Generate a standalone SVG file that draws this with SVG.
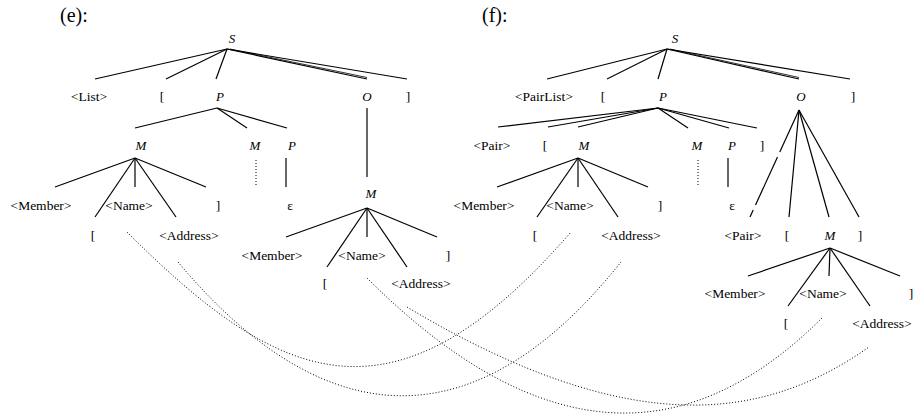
<svg xmlns="http://www.w3.org/2000/svg" width="913" height="416" viewBox="0 0 913 416">
<style>
text{font-family:"Liberation Serif","Times New Roman",serif;font-size:13.5px;fill:#000;text-anchor:middle}
.v{font-style:italic;font-size:13px}
.h{font-size:20px;text-anchor:start}
.e line{stroke:#000;stroke-width:1.2}
.e line.t{stroke-width:0.8}
.dot{stroke:#000;stroke-width:1;stroke-dasharray:1 2;fill:none}
</style>
<rect width="913" height="416" fill="#fff"/>
<g id="connectors">
 <g class="e">
  <line x1="227" y1="49" x2="95" y2="79"/><line x1="227" y1="49" x2="166" y2="79"/><line x1="227" y1="49" x2="216" y2="79"/>
  <line x1="227" y1="49" x2="367" y2="79"/><line class="t" x1="230" y1="49" x2="367" y2="77.5"/><line x1="227" y1="49" x2="407" y2="79"/>
  <line x1="217" y1="108" x2="135" y2="128"/><line x1="217" y1="108" x2="247" y2="128"/><line x1="217" y1="108" x2="287" y2="128"/>
  <line x1="135" y1="158" x2="55" y2="187"/><line x1="135" y1="158" x2="95" y2="217"/><line x1="135" y1="158" x2="135" y2="187"/>
  <line x1="135" y1="158" x2="176" y2="217"/><line x1="135" y1="158" x2="206" y2="187"/>
  <line x1="286" y1="158" x2="286" y2="187"/>
  <line x1="367" y1="108" x2="367" y2="177"/>
  <line x1="367" y1="208" x2="286" y2="237"/><line x1="367" y1="208" x2="327" y2="267"/><line x1="367" y1="208" x2="367" y2="237"/>
  <line x1="367" y1="208" x2="407" y2="267"/><line x1="367" y1="208" x2="437" y2="237"/>
  <line x1="667" y1="49" x2="547" y2="79"/><line x1="667" y1="49" x2="607" y2="79"/><line x1="667" y1="49" x2="658" y2="79"/>
  <line x1="667" y1="49" x2="799" y2="79"/><line class="t" x1="670" y1="49" x2="799" y2="77.5"/><line x1="667" y1="49" x2="850" y2="79"/>
  <line x1="658" y1="108" x2="498" y2="127"/><line x1="658" y1="108" x2="548" y2="127"/><line x1="658" y1="108" x2="578" y2="127"/>
  <line x1="658" y1="108" x2="688" y2="128"/><line x1="658" y1="108" x2="729" y2="128"/><line x1="658" y1="108" x2="757" y2="128"/>
  <line x1="578" y1="158" x2="497" y2="187"/><line x1="578" y1="158" x2="537" y2="217"/><line x1="578" y1="158" x2="578" y2="187"/>
  <line x1="578" y1="158" x2="618" y2="217"/><line x1="578" y1="158" x2="648" y2="187"/>
  <line x1="728" y1="158" x2="728" y2="187"/>
  <line x1="799" y1="110" x2="779.8" y2="152"/><line x1="777.5" y1="157" x2="755.5" y2="205"/><line x1="753.2" y1="210" x2="750" y2="217"/>
  <line x1="799" y1="110" x2="789" y2="217"/><line x1="799" y1="110" x2="829" y2="217"/><line x1="799" y1="110" x2="859" y2="217"/>
  <line x1="830" y1="248" x2="748" y2="276"/><line x1="830" y1="248" x2="788" y2="306"/><line x1="830" y1="248" x2="829" y2="276"/>
  <line x1="830" y1="248" x2="870" y2="306"/><line x1="830" y1="248" x2="900" y2="276"/>
 </g>
 <line class="dot" x1="256" y1="160" x2="256" y2="187"/>
 <line class="dot" x1="698" y1="160" x2="698" y2="185"/>
 <path class="dot" d="M127,232 C280,385 394,436 571,232"/>
 <path class="dot" d="M178,262 C300,408 455,470 621,262"/>
 <path class="dot" d="M367,278 C567,478 715,425 823,317"/>
 <path class="dot" d="M407,307 C636,444 768,418 869,347"/>
</g>
<g id="label-e"><text class="h" x="60" y="22">(e):</text></g>
<g id="label-f"><text class="h" x="482" y="22">(f):</text></g>
<g id="e-S"><text class="v" x="232" y="43">S</text></g>
<g id="e-List"><text x="89" y="101">&lt;List&gt;</text></g>
<g id="e-lb1"><text x="162" y="101">[</text></g>
<g id="e-P"><text class="v" x="220" y="101">P</text></g>
<g id="e-O"><text class="v" x="367" y="101">O</text></g>
<g id="e-rb1"><text x="408" y="101">]</text></g>
<g id="e-M"><text class="v" x="141" y="150">M</text></g>
<g id="e-M2"><text class="v" x="255" y="150">M</text></g>
<g id="e-P2"><text class="v" x="292" y="150">P</text></g>
<g id="e-Member"><text x="41" y="210">&lt;Member&gt;</text></g>
<g id="e-Name"><text x="129" y="210">&lt;Name&gt;</text></g>
<g id="e-rb2"><text x="218" y="210">]</text></g>
<g id="e-eps"><text x="290" y="210">ε</text></g>
<g id="e-lb2"><text x="93" y="240">[</text></g>
<g id="e-Address"><text x="189" y="240">&lt;Address&gt;</text></g>
<g id="e-M3"><text class="v" x="371" y="198">M</text></g>
<g id="e-Member3"><text x="272" y="260">&lt;Member&gt;</text></g>
<g id="e-Name3"><text x="362" y="260">&lt;Name&gt;</text></g>
<g id="e-rb3"><text x="448" y="260">]</text></g>
<g id="e-lb3"><text x="325" y="288">[</text></g>
<g id="e-Address3"><text x="421" y="288">&lt;Address&gt;</text></g>
<g id="f-S"><text class="v" x="675" y="43">S</text></g>
<g id="f-PairList"><text x="544" y="101">&lt;PairList&gt;</text></g>
<g id="f-lb1"><text x="603" y="101">[</text></g>
<g id="f-P"><text class="v" x="663" y="101">P</text></g>
<g id="f-O"><text class="v" x="801" y="101">O</text></g>
<g id="f-rb1"><text x="853" y="101">]</text></g>
<g id="f-Pair"><text x="492" y="150">&lt;Pair&gt;</text></g>
<g id="f-lb2"><text x="545" y="150">[</text></g>
<g id="f-M"><text class="v" x="584" y="150">M</text></g>
<g id="f-M2"><text class="v" x="697" y="150">M</text></g>
<g id="f-P2"><text class="v" x="732" y="150">P</text></g>
<g id="f-rb2"><text x="762" y="150">]</text></g>
<g id="f-Member"><text x="484" y="210">&lt;Member&gt;</text></g>
<g id="f-Name"><text x="570" y="210">&lt;Name&gt;</text></g>
<g id="f-rb3"><text x="660" y="210">]</text></g>
<g id="f-eps"><text x="732" y="210">ε</text></g>
<g id="f-lb3"><text x="535" y="240">[</text></g>
<g id="f-Address"><text x="631" y="240">&lt;Address&gt;</text></g>
<g id="f-Pair2"><text x="743" y="240">&lt;Pair&gt;</text></g>
<g id="f-lb4"><text x="787" y="240">[</text></g>
<g id="f-M3"><text class="v" x="830" y="240">M</text></g>
<g id="f-rb4"><text x="860" y="240">]</text></g>
<g id="f-Member3"><text x="735" y="298">&lt;Member&gt;</text></g>
<g id="f-Name3"><text x="823" y="298">&lt;Name&gt;</text></g>
<g id="f-rb5"><text x="911" y="298">]</text></g>
<g id="f-lb5"><text x="786" y="328">[</text></g>
<g id="f-Address3"><text x="882" y="328">&lt;Address&gt;</text></g>
</svg>
